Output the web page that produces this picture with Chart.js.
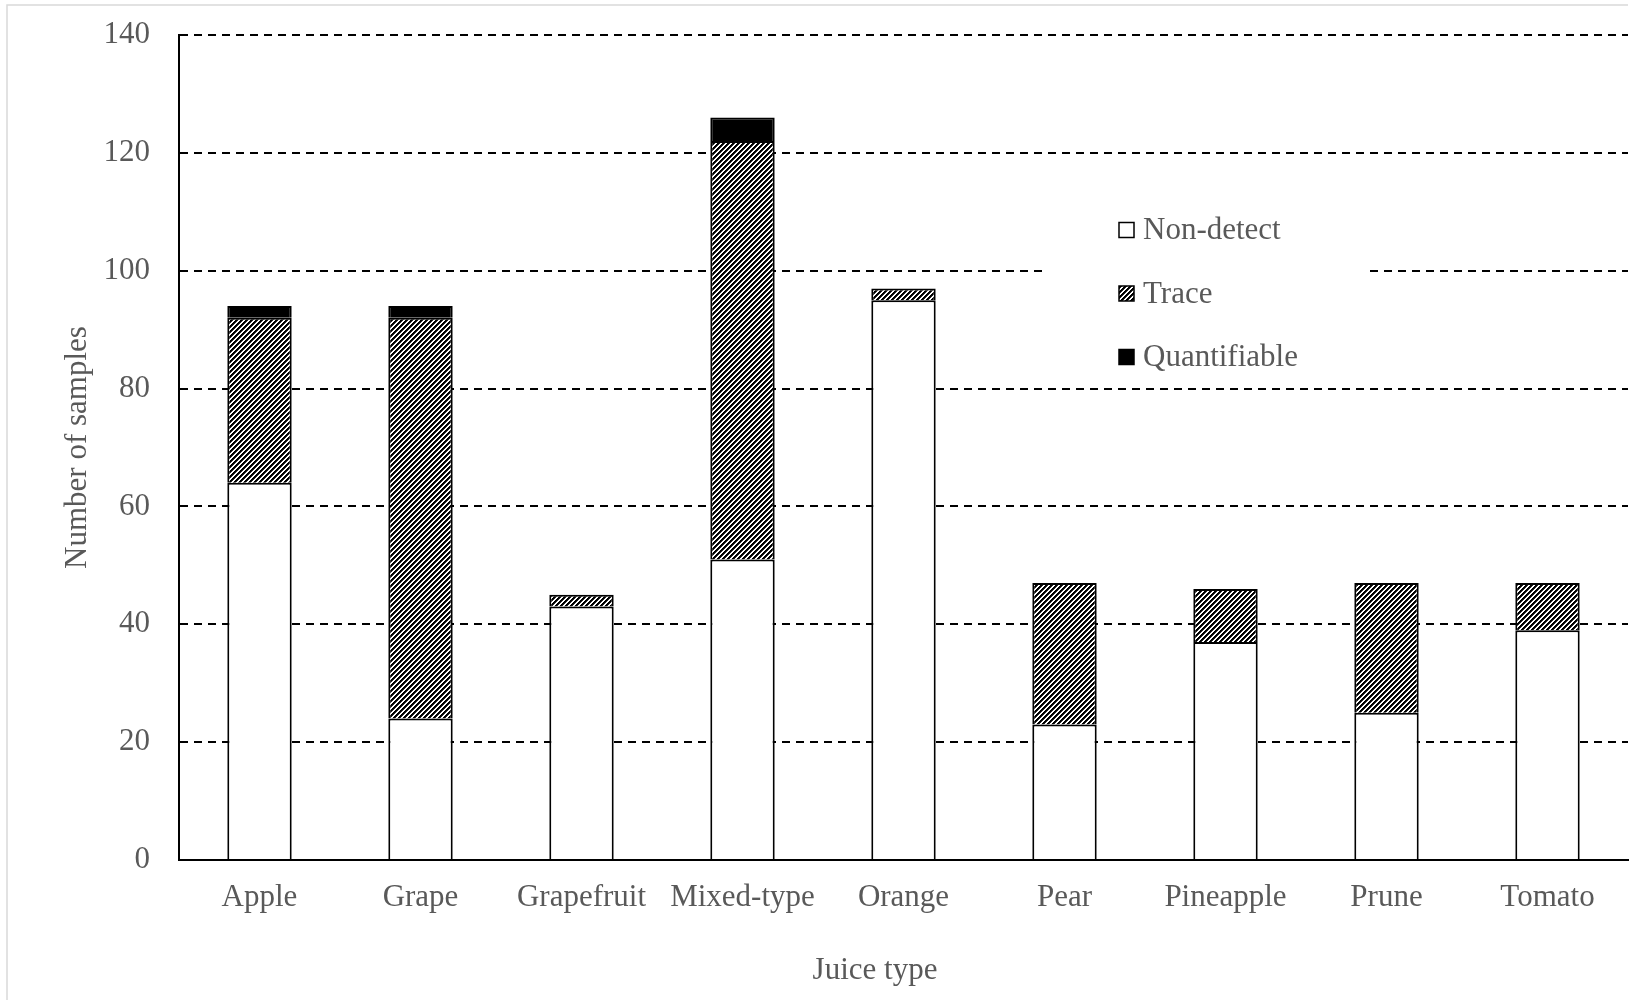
<!DOCTYPE html>
<html>
<head>
<meta charset="utf-8">
<script src="https://cdn.jsdelivr.net/npm/chart.js@4.4.0/dist/chart.umd.min.js"></script>
<style>
  html, body { margin: 0; padding: 0; background: #fff; }
  #wrap { width: 1638px; height: 1000px; }
</style>
</head>
<body>
<div id="wrap"><canvas id="juiceChart"></canvas></div>
<script>
// --- data ---
const juiceTypes = ['Apple', 'Grape', 'Grapefruit', 'Mixed-type', 'Orange', 'Pear', 'Pineapple', 'Prune', 'Tomato'];
const nonDetect = [64, 24, 43, 51, 95, 23, 37, 25, 39];
const trace = [28, 68, 2, 71, 2, 24, 9, 22, 8];
const quantifiable = [2, 2, 0, 4, 0, 0, 0, 0, 0];
const seriesNames = ['Non-detect', 'Trace', 'Quantifiable'];
const yMin = 0, yMax = 140, yStep = 20;
const xTitle = 'Juice type';
const yTitle = 'Number of samples';

const textGray = '#595959';
const fontFamily = '"Liberation Serif", "Times New Roman", serif';
Chart.defaults.font.family = fontFamily;
Chart.defaults.font.size = 31;
Chart.defaults.color = textGray;

// crisp diagonal black/white hatch used for "Trace"
function makeHatch() {
    const s = 5;
    const c = document.createElement('canvas');
    c.width = s; c.height = s;
    const g = c.getContext('2d');
    for (let y = 0; y < s; y++) {
        for (let x = 0; x < s; x++) {
            const k = (x + y) % s;
            g.fillStyle = k < 2 ? '#000' : (k === 2 ? '#222' : '#fff');
            g.fillRect(x, y, 1, 1);
        }
    }
    return g.createPattern(c, 'repeat');
}
const hatch = makeHatch();

// light frame of the chart area (left and top edges only are in view)
const frame = {
    id: 'frame',
    beforeDraw(chart) {
        const ctx = chart.ctx;
        ctx.save();
        ctx.fillStyle = '#fff';
        ctx.fillRect(0, 0, chart.width, chart.height);
        ctx.strokeStyle = '#d9d9d9';
        ctx.lineWidth = 1.5;
        ctx.beginPath();
        ctx.moveTo(7, chart.height);
        ctx.lineTo(7, 5);
        ctx.lineTo(1628, 5);
        ctx.stroke();
        ctx.restore();
    }
};

// legend inside the plot on a white box, plus the x title (sits left of centre)
const boxLegend = {
    id: 'boxLegend',
    afterDatasetsDraw(chart) {
        const ctx = chart.ctx;
        ctx.save();
        ctx.fillStyle = '#fff';
        ctx.fillRect(1045, 195, 324, 192);
        ctx.font = '31px ' + fontFamily;
        ctx.textBaseline = 'middle';
        chart.data.datasets.forEach((ds, i) => {
            const y = 230 + i * 63.5;
            ctx.fillStyle = ds.backgroundColor;
            ctx.fillRect(1119, y - 7.5, 15, 15);
            ctx.strokeStyle = '#000';
            ctx.lineWidth = 1.5;
            ctx.strokeRect(1119, y - 7.5, 15, 15);
            ctx.fillStyle = textGray;
            ctx.fillText(ds.label, 1143, y + 1);
        });
        ctx.textAlign = 'center';
        ctx.fillText(xTitle, 875, 971);
        ctx.restore();
    }
};

const ctx = document.getElementById('juiceChart').getContext('2d');
new Chart(ctx, {
    type: 'bar',
    data: {
        labels: juiceTypes,
        datasets: [
            { label: seriesNames[0], data: nonDetect, backgroundColor: '#ffffff' },
            { label: seriesNames[1], data: trace, backgroundColor: hatch },
            { label: seriesNames[2], data: quantifiable, backgroundColor: '#000000' }
        ].map(d => Object.assign(d, {
            borderColor: '#000',
            borderWidth: 2,
            borderSkipped: 'start',
            categoryPercentage: 1,
            barPercentage: 0.4
        }))
    },
    options: {
        responsive: true,
        maintainAspectRatio: false,
        animation: false,
        layout: { padding: { top: 35, right: 10, left: 0, bottom: 0 } },
        plugins: {
            legend: { display: false },
            tooltip: { enabled: false }
        },
        scales: {
            x: {
                stacked: true,
                grid: { display: false, drawTicks: false },
                border: { display: true, color: '#000', width: 2 },
                ticks: { padding: 19, color: textGray, font: { size: 31 } },
                afterFit(scale) {
                    scale.height = 140;
                    scale.paddingLeft = 0;
                    scale.paddingRight = 0;
                }
            },
            y: {
                stacked: true,
                min: yMin,
                max: yMax,
                grid: { color: '#000', lineWidth: 2, drawTicks: false },
                border: { display: true, color: '#000', width: 2, dash: [8, 6] },
                ticks: { stepSize: yStep, padding: 29, color: textGray, font: { size: 31 } },
                title: {
                    display: true,
                    text: yTitle,
                    color: textGray,
                    font: { size: 31 },
                    padding: { top: 59, bottom: 0 }
                },
                afterFit(scale) {
                    scale.width = 179;
                    scale.paddingTop = 0;
                    scale.paddingBottom = 0;
                }
            }
        }
    },
    plugins: [frame, boxLegend]
});
</script>
</body>
</html>
